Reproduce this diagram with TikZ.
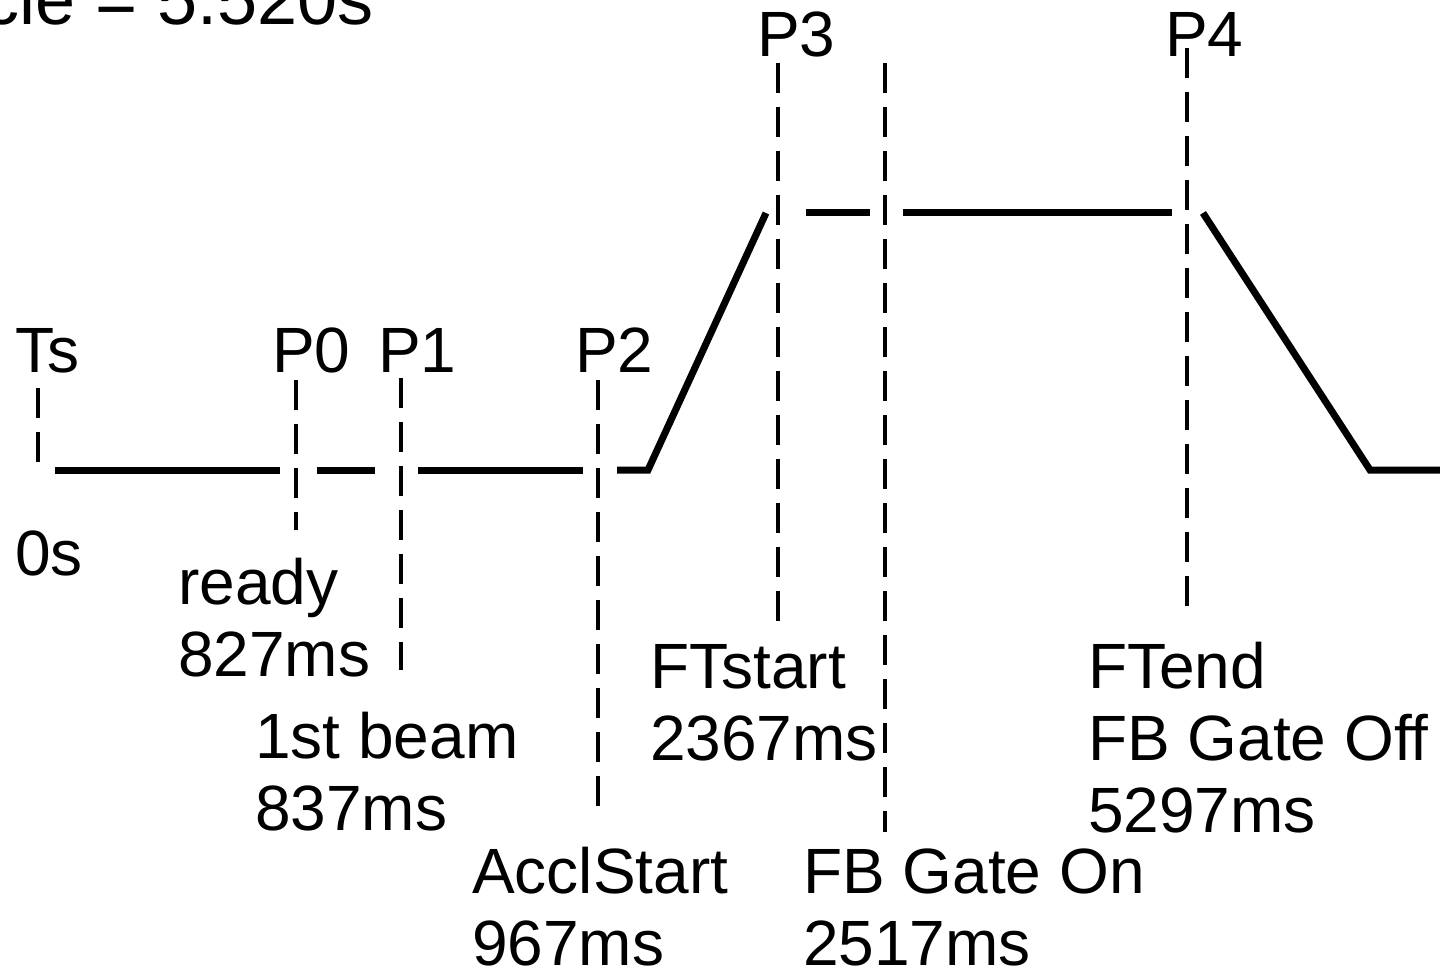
\documentclass[tikz,border=0pt]{standalone}
\usepackage{fontspec}
\setmainfont{Liberation Sans}
\newcommand{\stacklines}[1]{\vtop{\baselineskip=72pt\lineskiplimit=-200pt\halign{##\hfil\cr#1\crcr}}}
\begin{document}
\begin{tikzpicture}[x=1pt,y=-1pt,
  lbl/.style={anchor=base west, inner sep=0pt, font=\fontsize{64}{72}\selectfont},
  ttl/.style={anchor=base west, inner sep=0pt, font=\fontsize{72}{80}\selectfont},
  wave/.style={line width=7pt, line join=miter},
  marker/.style={line width=3.3pt, dash pattern=on 30pt off 14pt},
]
\useasboundingbox (0,0) rectangle (1440,976);
\clip (0,0) rectangle (1440,976);

% title (cut off at the top left)
\node[ttl] (title) at (-17,25) {cle = 5.520s};

% labels
\node[lbl] (ts) at (15,372) {Ts};
\node[lbl] (p0) at (272,372) {P0};
\node[lbl] (p1) at (378,372) {P1};
\node[lbl] (p2) at (575,372) {P2};
\node[lbl] (p3) at (757,57) {P3};
\node[lbl] (p4) at (1165,57) {P4};
\node[lbl] (zero) at (15,575) {0s};
\node[lbl] (ready) at (178,604) {\stacklines{ready\cr 827ms}};
\node[lbl] (beam) at (255,758) {\stacklines{1st beam\cr 837ms}};
\node[lbl] (accl) at (472,893) {\stacklines{AcclStart\cr 967ms}};
\node[lbl] (ftstart) at (650,688) {\stacklines{FTstart\cr 2367ms}};
\node[lbl] (gateon) at (803,893) {\stacklines{FB Gate On\cr 2517ms}};
\node[lbl] (ftend) at (1088,688) {\stacklines{FTend\cr FB Gate Off\cr 5297ms}};

% marker lines
\coordinate (tsT) at (38,388);   \coordinate (tsB) at (38,462);
\coordinate (p0T) at (296,380);  \coordinate (p0B) at (296,530);
\coordinate (p1T) at (401,378);  \coordinate (p1B) at (401,670);
\coordinate (p2T) at (598,380);  \coordinate (p2B) at (598,808);
\coordinate (p3T) at (778,63);   \coordinate (p3B) at (778,622);
\coordinate (goT) at (885,63);   \coordinate (goB) at (885,832);
\coordinate (p4T) at (1187,48);  \coordinate (p4B) at (1187,606);
\foreach \m in {ts,p0,p1,p2,p3,go,p4}
  \draw[marker] (\m T) -- (\m B);

% waveform
\coordinate (w0) at (55,470);   \coordinate (w1) at (280,470);
\coordinate (w2) at (317,470);  \coordinate (w3) at (375,470);
\coordinate (w4) at (418,470);  \coordinate (w5) at (583,470);
\coordinate (w6) at (617,470);  \coordinate (w7) at (648,470);
\coordinate (w8) at (766,213);
\coordinate (w9) at (806,213);  \coordinate (w10) at (870,213);
\coordinate (w11) at (903,213); \coordinate (w12) at (1172,213);
\coordinate (w13) at (1203,213); \coordinate (w14) at (1370,470);
\coordinate (w15) at (1445,470);
\draw[wave] (w0) -- (w1);
\draw[wave] (w2) -- (w3);
\draw[wave] (w4) -- (w5);
\draw[wave] (w6) -- (w7) -- (w8);
\draw[wave] (w9) -- (w10);
\draw[wave] (w11) -- (w12);
\draw[wave] (w13) -- (w14) -- (w15);
\end{tikzpicture}
\end{document}
